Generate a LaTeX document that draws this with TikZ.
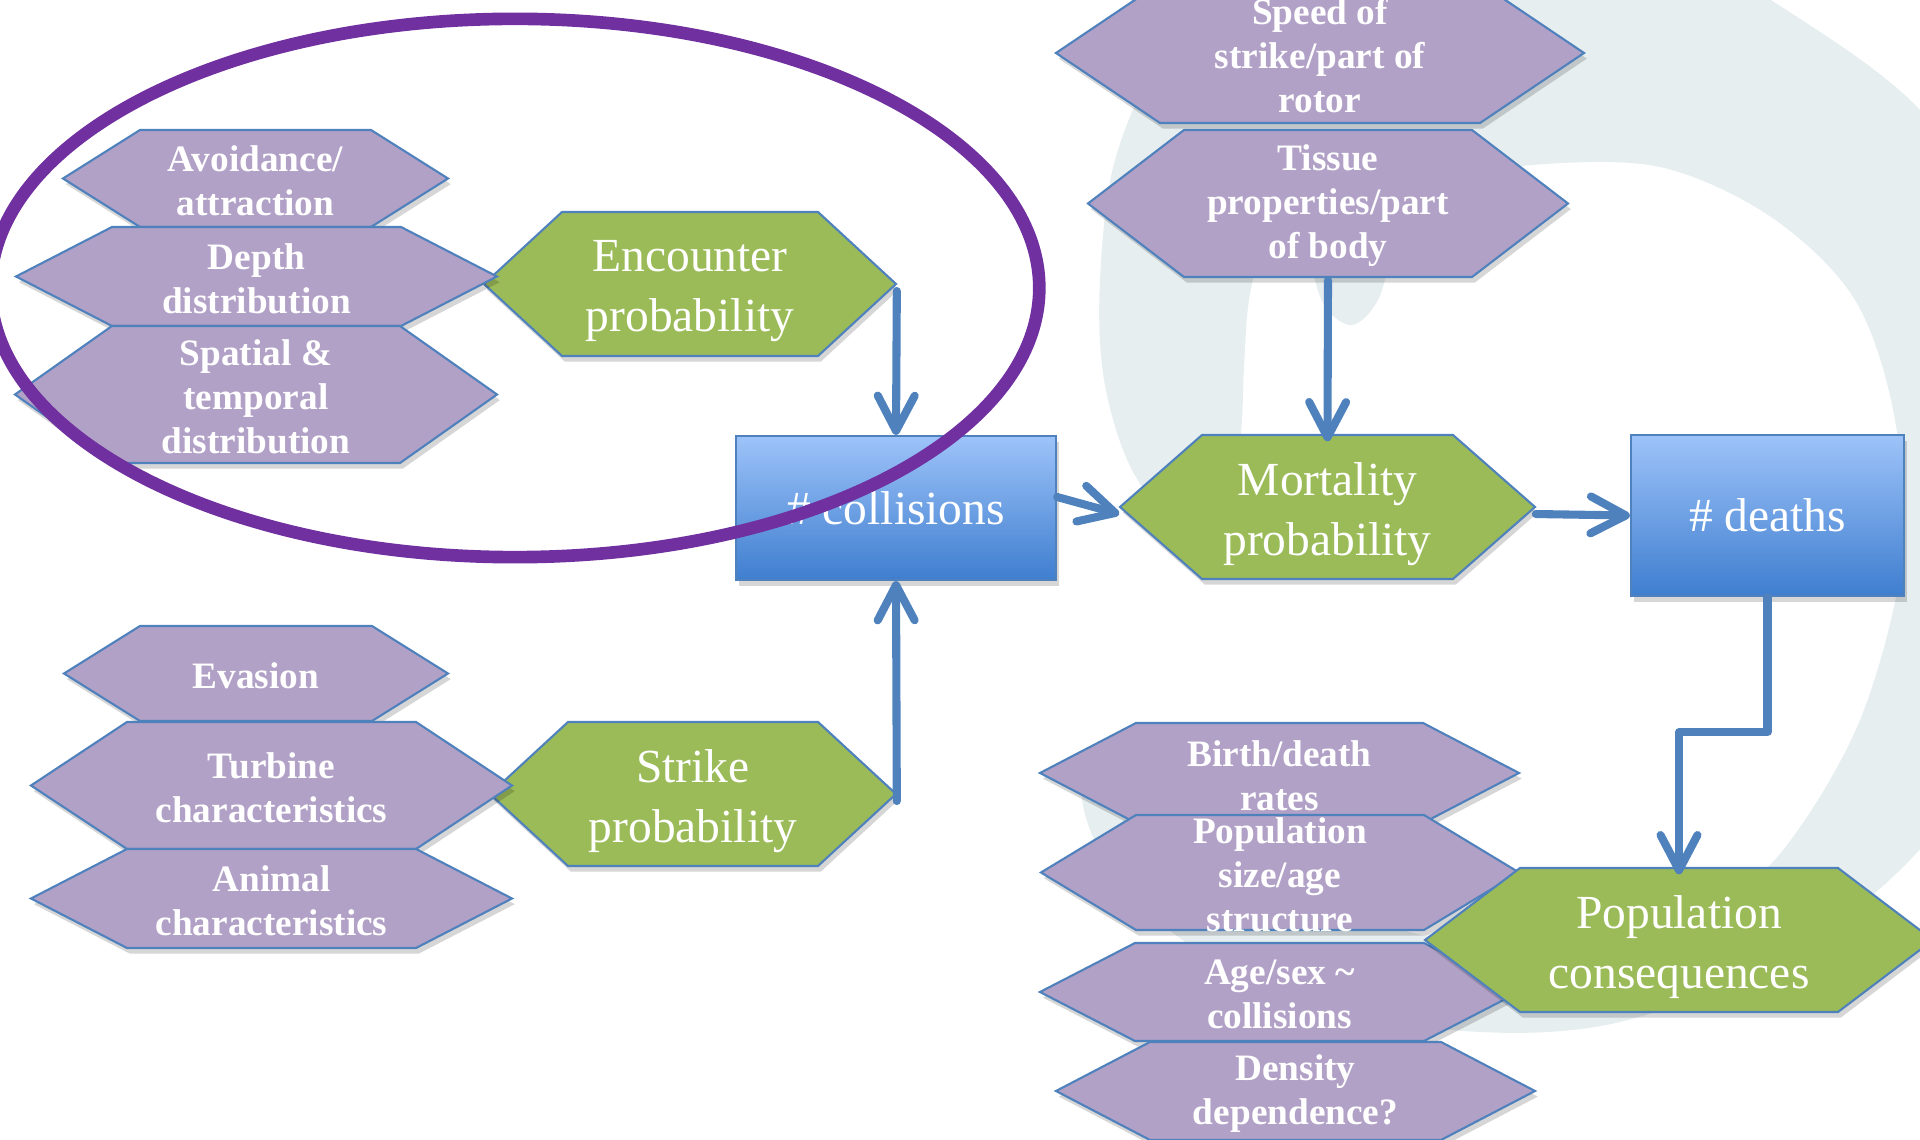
\documentclass[tikz,border=0pt]{standalone}
\usepackage{fontspec}
\setmainfont{Liberation Serif}
\usetikzlibrary{arrows.meta,calc}

\definecolor{hexpurple}{HTML}{B2A1C7}
\definecolor{hexgreen}{HTML}{9BBB59}
\definecolor{hexline}{HTML}{4F81BD}
\definecolor{flowblue}{HTML}{4F81BD}
\definecolor{ringpurple}{HTML}{7030A0}
\definecolor{boxtop}{HTML}{9DC3F9}
\definecolor{boxbottom}{HTML}{3F7ECF}
\definecolor{swirl}{HTML}{E6EEF0}

\tikzset{
  softshadow/.style={preaction={fill=black, fill opacity=0.16, draw=none,
      transform canvas={xshift=0.8pt, yshift=-1.6pt}}},
  hexedge/.style={draw=hexline, line width=0.6pt, line join=miter, softshadow},
  hexp/.style={hexedge, fill=hexpurple},
  hexg/.style={hexedge, fill=hexgreen},
  hexptext/.style={inner sep=0pt, text=white, align=center, yshift=-0.7pt,
      font=\fontsize{10.6}{12.5}\selectfont\bfseries},
  hexgtext/.style={inner sep=0pt, text=white, align=center, yshift=-2pt,
      font=\fontsize{13.5}{16.9}\selectfont},
  countbox/.style={draw=hexline, line width=0.6pt, softshadow,
      top color=boxtop, bottom color=boxbottom, text=white, inner sep=0pt,
      font=\fontsize{13.5}{16.9}\selectfont},
  flow/.style={draw=flowblue, line width=2.3pt, line cap=round, line join=round,
      -{Straight Barb[length=10pt, width=10.5pt, round]}},
  ring/.style={draw=ringpurple, line width=3.6pt},
}

% \hexnode{name}{cx}{cy}{width}{height}{inset}{p|g}{label}
% draws a flat-topped hexagon with pointed ends and a named node on it
\newcommand{\hexnode}[8]{%
  \draw[hex#7] (#2-#4/2,#3) -- (#2-#4/2+#6,#3-#5/2) -- (#2+#4/2-#6,#3-#5/2)
     -- (#2+#4/2,#3) -- (#2+#4/2-#6,#3+#5/2) -- (#2-#4/2+#6,#3+#5/2) -- cycle;
  \node[hex#7text, minimum width=#4*0.28453pt, minimum height=#5*0.28453pt]
     (#1) at (#2,#3) {#8};
}

\begin{document}
\begin{tikzpicture}[x=0.01cm, y=-0.01cm]
\useasboundingbox (0,0) rectangle (1920,1140);
\clip (0,0) rectangle (1920,1140);

% pale swirl in the background
\fill[swirl] plot[smooth cycle, tension=0.55] coordinates {
  (1185,535) (1132,470) (1104,380) (1100,280) (1115,160) (1165,50)
  (1260,-50) (1450,-110) (1660,-60) (1771,0) (1920,110) (2010,260)
  (2060,500) (2010,720) (1910,860) (1780,960) (1620,1022) (1480,1032)
  (1330,1008) (1200,952) (1112,872) (1082,792)
  (1125,772) (1205,838) (1320,902) (1450,942) (1570,958) (1700,918)
  (1783,850) (1860,720) (1902,560) (1895,420) (1855,300) (1771,217)
  (1660,167) (1533,165) (1440,185) (1398,240) (1378,300) (1352,325)
  (1324,305) (1306,250) (1287,208) (1264,240) (1249,300) (1244,367)
  (1240,440) (1222,505)};

% encounter branch
\hexnode{enc}{690}{284}{412}{144}{78}{g}{Encounter\\probability}
\hexnode{avoid}{255.5}{178.5}{385}{97}{77}{p}{Avoidance/\\attraction}
\hexnode{depth}{256.5}{276.5}{481}{99}{96}{p}{Depth\\distribution}
\hexnode{spatial}{256}{394.5}{482}{137}{97}{p}{Spatial \&\\temporal\\distribution}

% strike branch
\hexnode{strike}{693}{794}{406}{144}{78}{g}{Strike\\probability}
\hexnode{evasion}{256}{673.5}{384}{95}{76}{p}{Evasion}
\hexnode{turbine}{271.5}{785.5}{481}{127}{96}{p}{Turbine\\characteristics}
\hexnode{animal}{271.5}{898.5}{481}{99}{96}{p}{Animal\\characteristics}

% mortality branch
\hexnode{speed}{1320}{53}{528}{140}{104}{p}{Speed of\\strike/part of\\rotor}
\hexnode{tissue}{1328}{203.5}{480}{147}{96}{p}{Tissue\\properties/part\\of body}
\hexnode{mort}{1327.5}{507}{415}{144}{82}{g}{Mortality\\probability}

% population branch
\hexnode{birth}{1279.5}{773}{479}{100}{96}{p}{Birth/death\\rates}
\hexnode{popsize}{1280}{872.5}{478}{115}{95}{p}{Population\\size/age\\structure}
\hexnode{agesex}{1279.5}{992}{479}{98}{95}{p}{Age/sex \textasciitilde\\collisions}
\hexnode{density}{1295.5}{1091}{479}{98}{94}{p}{Density\\dependence?}
\hexnode{popcons}{1679}{940}{508}{144}{95}{g}{Population\\consequences}

% count boxes
\node[countbox, minimum width=320*0.28453pt, minimum height=144*0.28453pt]
  (coll) at (896,508) {\# collisions};
\node[countbox, minimum width=273*0.28453pt, minimum height=161*0.28453pt]
  (deaths) at (1767.5,515.5) {\# deaths};

% connectors
\draw[flow] (enc.east) -- (coll.north);
\draw[flow] (strike.east) -- (coll.south);
\draw[flow] ($(coll.east)+(0,-11)$) -- (mort.west);
\draw[flow] (tissue.south) -- (mort.north);
\draw[flow] (mort.east) -- (deaths.west);
\draw[flow] (deaths.south) -- ++(0,135) -| (popcons.north);

% highlight ring round the encounter factors
\draw[ring] (515,288) ellipse [x radius=5.24cm, y radius=2.69cm];
\end{tikzpicture}
\end{document}
